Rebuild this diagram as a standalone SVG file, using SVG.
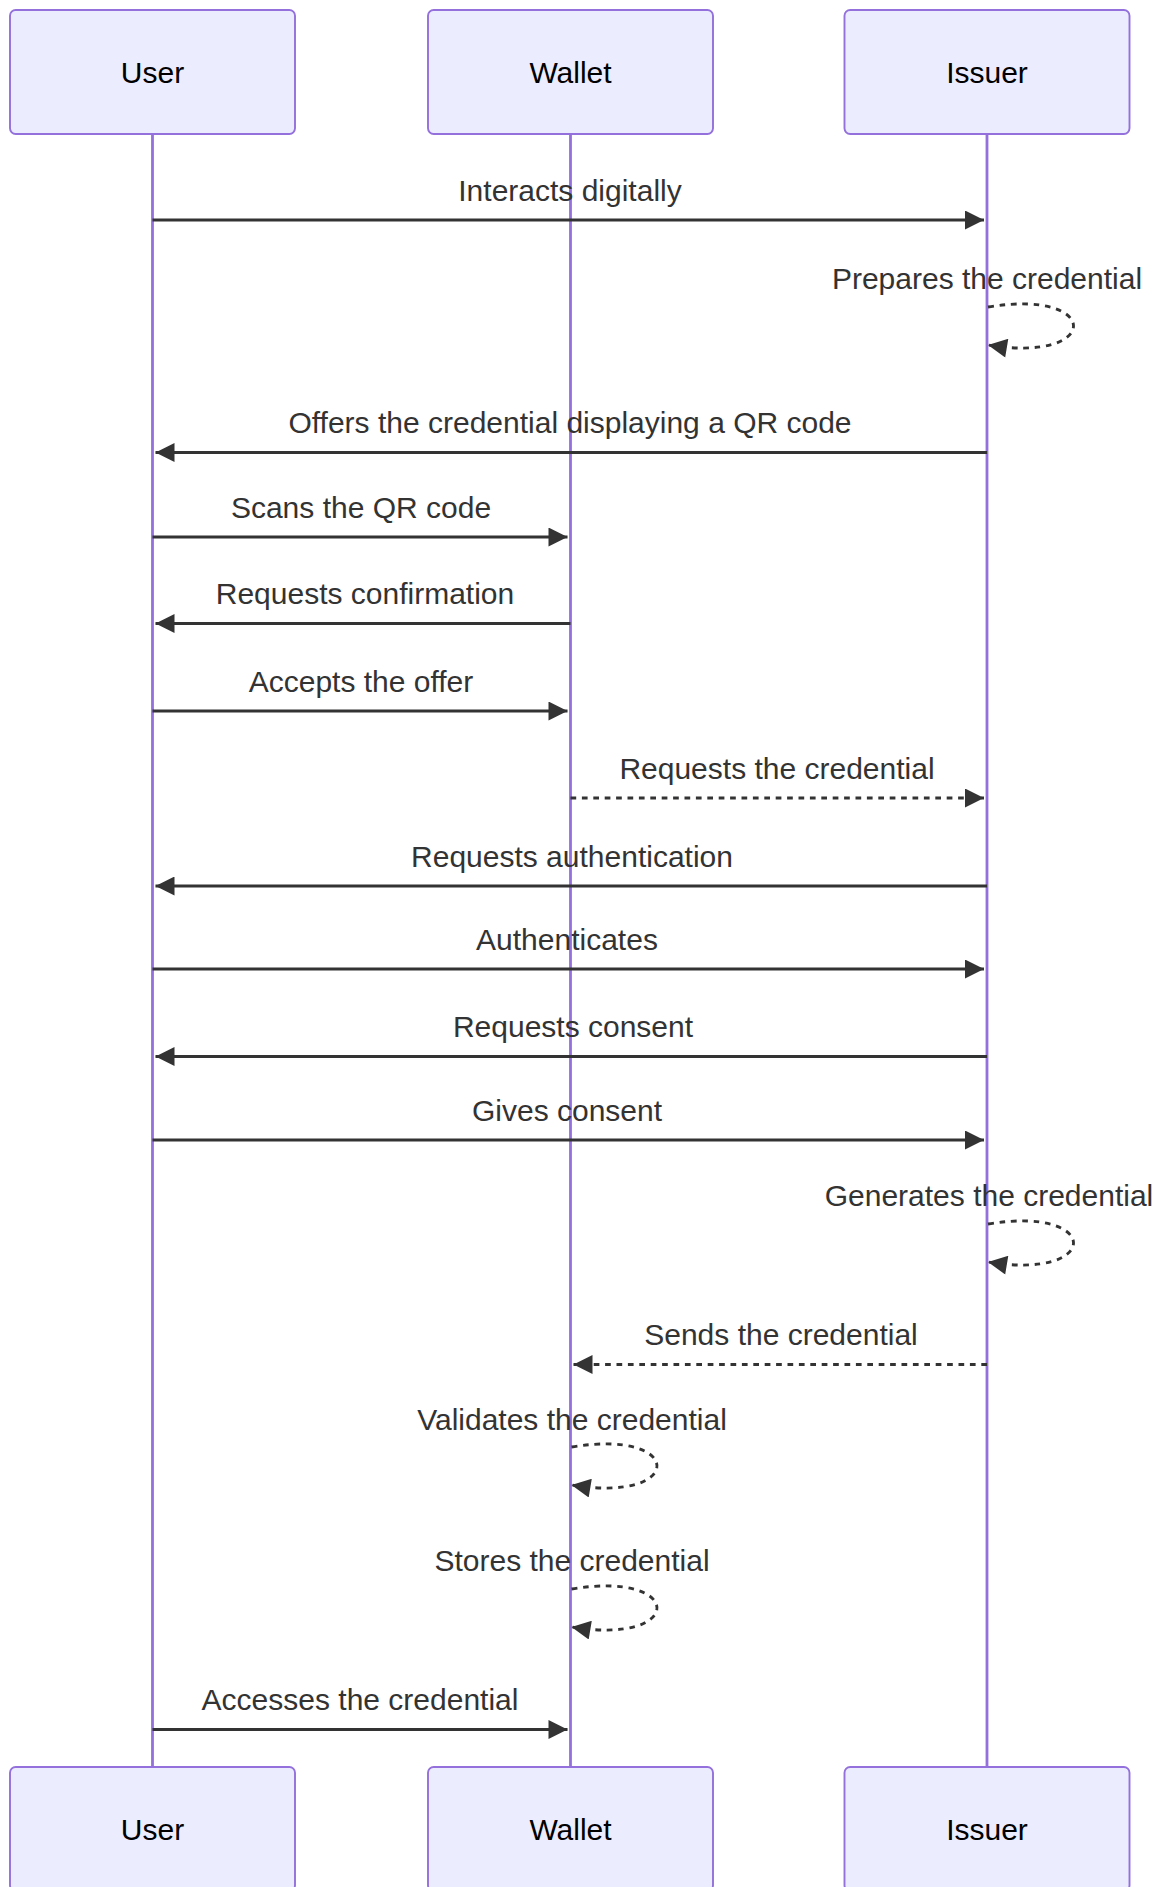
<svg xmlns="http://www.w3.org/2000/svg" width="1164" height="1887" viewBox="0 0 1164 1887">
<style>
.actor{fill:#ECECFF;stroke:#9370DB;stroke-width:1.9}
.actor-text{font-family:"Liberation Sans",Arial,sans-serif;font-size:30px;fill:#000;text-anchor:middle;dominant-baseline:central}
.lifeline{stroke:#9370DB;stroke-width:2.8;fill:none}
.msg{stroke:#333;stroke-width:2.85;fill:none}
.dashed{stroke-dasharray:5.7,5.7}
.msg-text{font-family:"Liberation Sans",Arial,sans-serif;font-size:30px;fill:#333;text-anchor:middle}
</style>
<defs>
<marker id="arrow" viewBox="0 0 10 10" refX="10" refY="5" markerUnits="userSpaceOnUse" markerWidth="20" markerHeight="19" orient="auto">
<path d="M0,0 L10,5 L0,10 z" fill="#333"/>
</marker>
</defs>
<g id="lifelines">
<line class="lifeline" x1="152.5" y1="134" x2="152.5" y2="1767"/>
<line class="lifeline" x1="570.5" y1="134" x2="570.5" y2="1767"/>
<line class="lifeline" x1="987" y1="134" x2="987" y2="1767"/>
</g>
<g id="actor-user-top"><rect class="actor" x="10" y="10" width="285" height="124" rx="5.7"/><text class="actor-text" x="152.5" y="72">User</text></g>
<g id="actor-wallet-top"><rect class="actor" x="428" y="10" width="285" height="124" rx="5.7"/><text class="actor-text" x="570.5" y="72">Wallet</text></g>
<g id="actor-issuer-top"><rect class="actor" x="844.5" y="10" width="285" height="124" rx="5.7"/><text class="actor-text" x="987" y="72">Issuer</text></g>
<g id="actor-user-bottom"><rect class="actor" x="10" y="1767" width="285" height="124" rx="5.7"/><text class="actor-text" x="152.5" y="1829">User</text></g>
<g id="actor-wallet-bottom"><rect class="actor" x="428" y="1767" width="285" height="124" rx="5.7"/><text class="actor-text" x="570.5" y="1829">Wallet</text></g>
<g id="actor-issuer-bottom"><rect class="actor" x="844.5" y="1767" width="285" height="124" rx="5.7"/><text class="actor-text" x="987" y="1829">Issuer</text></g>
<g id="connectors">
<text class="msg-text" x="570" y="200.5">Interacts digitally</text>
<line class="msg" x1="152.5" y1="220" x2="984" y2="220" marker-end="url(#arrow)"/>
<text class="msg-text" x="987" y="289">Prepares the credential</text>
<path class="msg dashed" d="M988,307 C1102,288 1102,364 988,345" marker-end="url(#arrow)"/>
<text class="msg-text" x="570" y="433">Offers the credential displaying a QR code</text>
<line class="msg" x1="987" y1="452.5" x2="155.5" y2="452.5" marker-end="url(#arrow)"/>
<text class="msg-text" x="361" y="517.5">Scans the QR code</text>
<line class="msg" x1="152.5" y1="537" x2="567.5" y2="537" marker-end="url(#arrow)"/>
<text class="msg-text" x="365" y="604">Requests confirmation</text>
<line class="msg" x1="570.5" y1="623.5" x2="155.5" y2="623.5" marker-end="url(#arrow)"/>
<text class="msg-text" x="361" y="691.5">Accepts the offer</text>
<line class="msg" x1="152.5" y1="711" x2="567.5" y2="711" marker-end="url(#arrow)"/>
<text class="msg-text" x="777" y="778.5">Requests the credential</text>
<line class="msg dashed" x1="570.5" y1="798" x2="984" y2="798" marker-end="url(#arrow)"/>
<text class="msg-text" x="572" y="866.5">Requests authentication</text>
<line class="msg" x1="987" y1="886" x2="155.5" y2="886" marker-end="url(#arrow)"/>
<text class="msg-text" x="567" y="949.5">Authenticates</text>
<line class="msg" x1="152.5" y1="969" x2="984" y2="969" marker-end="url(#arrow)"/>
<text class="msg-text" x="573" y="1037">Requests consent</text>
<line class="msg" x1="987" y1="1056.5" x2="155.5" y2="1056.5" marker-end="url(#arrow)"/>
<text class="msg-text" x="567" y="1120.5">Gives consent</text>
<line class="msg" x1="152.5" y1="1140" x2="984" y2="1140" marker-end="url(#arrow)"/>
<text class="msg-text" x="989" y="1206">Generates the credential</text>
<path class="msg dashed" d="M988,1224 C1102,1205 1102,1281 988,1262" marker-end="url(#arrow)"/>
<text class="msg-text" x="781" y="1345">Sends the credential</text>
<line class="msg dashed" x1="987" y1="1364.5" x2="573.5" y2="1364.5" marker-end="url(#arrow)"/>
<text class="msg-text" x="572" y="1430">Validates the credential</text>
<path class="msg dashed" d="M571.5,1447 C685.5,1428 685.5,1504 571.5,1485" marker-end="url(#arrow)"/>
<text class="msg-text" x="572" y="1571">Stores the credential</text>
<path class="msg dashed" d="M571.5,1589 C685.5,1570 685.5,1646 571.5,1627" marker-end="url(#arrow)"/>
<text class="msg-text" x="360" y="1710">Accesses the credential</text>
<line class="msg" x1="152.5" y1="1729.5" x2="567.5" y2="1729.5" marker-end="url(#arrow)"/>
</g>
</svg>
